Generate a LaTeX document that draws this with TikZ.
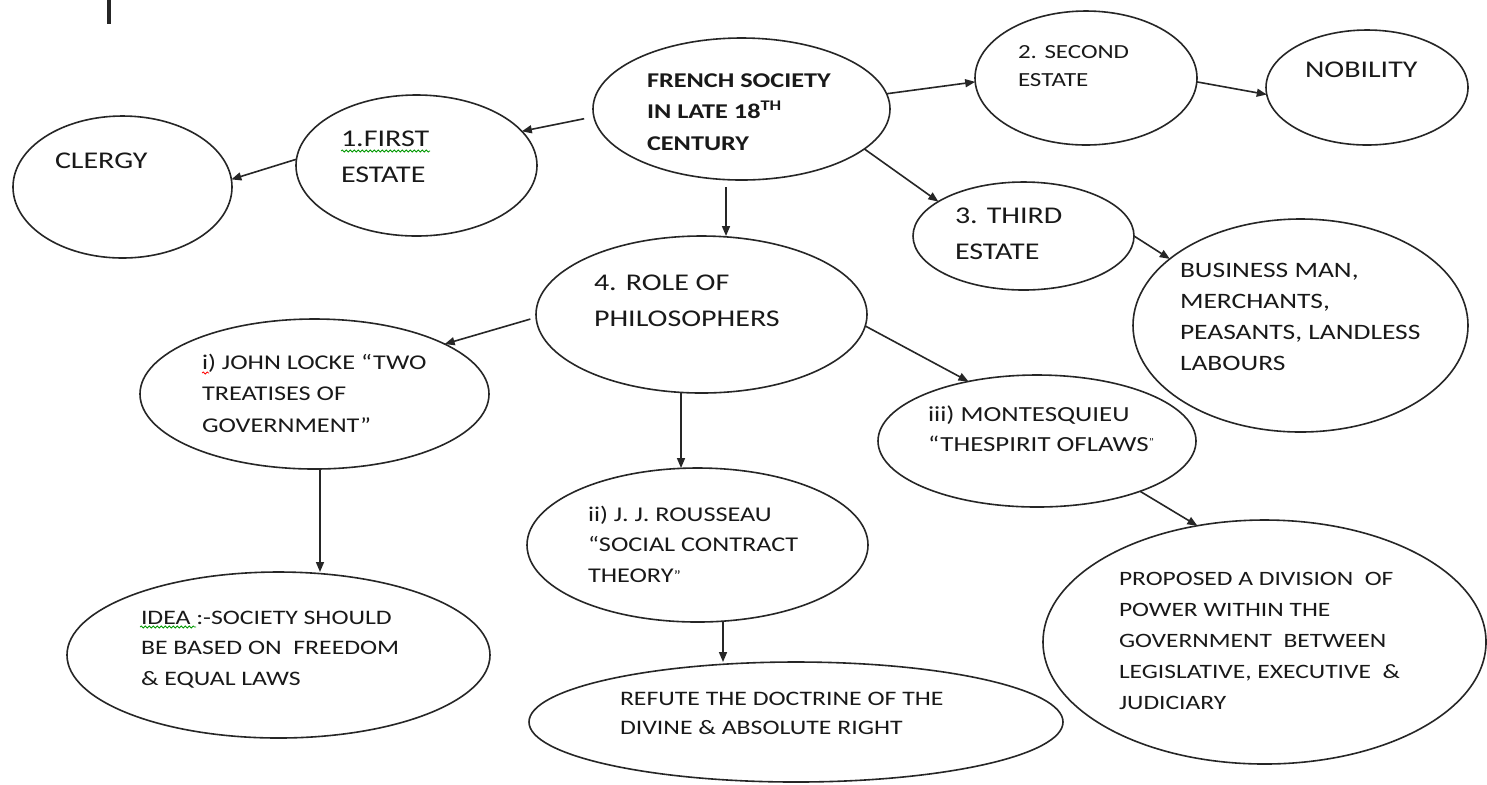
\documentclass[tikz,border=0pt]{standalone}
\usepackage{fontspec}
\setmainfont{Carlito}[FakeStretch=1.25]
\usetikzlibrary{arrows.meta,shapes.geometric,decorations.pathmorphing}
\newcommand\mylines[1]{\begin{tabular}[t]{@{}l@{}}#1\end{tabular}}
\begin{document}
\begin{tikzpicture}[x=0.5pt,y=-0.5pt,
  ell/.style={draw=black!85, line width=0.8pt, ellipse, inner sep=0pt, outer sep=0pt},
  txt/.style={anchor=base west, inner sep=0pt, outer sep=0pt, text=black!90, font=\fontsize{12}{#1}\selectfont},
  txt/.default=15.5,
  arr/.style={draw=black!85, line width=0.8pt, -{Triangle[length=5pt,width=4pt]}},
  squig/.style={decorate, decoration={snake, amplitude=0.5pt, segment length=2pt}, line width=0.4pt}
]
\useasboundingbox (0,0) rectangle (1487,784);
\fill[white] (0,0) rectangle (1487,784);

% cursor bar
\draw[line width=2pt, black!85] (108.5,0) -- (108.5,24);

% ellipses
\node[ell, minimum width=109.5pt, minimum height=71pt]   (clergy)   at (122.5,187) {};
\node[ell, minimum width=120.5pt, minimum height=70.5pt] (first)    at (416.5,165.5) {};
\node[ell, minimum width=148.5pt, minimum height=71pt]   (french)   at (741.5,109) {};
\node[ell, minimum width=111pt,   minimum height=67pt]   (second)   at (1086,78) {};
\node[ell, minimum width=101pt,   minimum height=57.5pt] (nobility) at (1367,87.5) {};
\node[ell, minimum width=110.5pt, minimum height=54pt]   (third)    at (1023.5,236) {};
\node[ell, minimum width=167.5pt, minimum height=106.5pt](business) at (1300.5,325.5) {};
\node[ell, minimum width=165.5pt, minimum height=78.5pt] (role)     at (701.5,314.5) {};
\node[ell, minimum width=174.5pt, minimum height=75pt]   (locke)    at (314.5,394) {};
\node[ell, minimum width=159pt,   minimum height=66pt]   (montes)   at (1037,441) {};
\node[ell, minimum width=170.5pt, minimum height=77pt]   (rousseau) at (697.5,545) {};
\node[ell, minimum width=267pt,   minimum height=60pt]   (refute)   at (796,722) {};
\node[ell, minimum width=211.5pt, minimum height=83pt]   (idea)     at (278.5,655) {};
\node[ell, minimum width=221.5pt, minimum height=122pt]  (proposed) at (1264.5,642) {};

% texts
\node[txt] (clergyt) at (55,168) {CLERGY};
\node[txt=18] (firstt) at (341,146) {\mylines{1.FIRST\\ESTATE}};
\node[txt, font=\bfseries\fontsize{10.5}{15.75}\selectfont] (frencht) at (647,87) {\mylines{FRENCH SOCIETY\\IN LATE 18\textsuperscript{TH}\\CENTURY}};
\node[txt, font=\fontsize{10}{14}\selectfont] (secondt) at (1018,58.5) {\mylines{2. SECOND\\ESTATE}};
\node[txt] (nobilityt) at (1305,77) {NOBILITY};
\node[txt=18] (thirdt) at (955,223) {\mylines{3. THIRD\\ESTATE}};
\node[txt, font=\fontsize{11}{15.65}\selectfont] (businesst) at (1180,277) {\mylines{BUSINESS MAN,\\MERCHANTS,\\PEASANTS, LANDLESS\\LABOURS}};
\node[txt=18] (rolet) at (594,290) {\mylines{4. ROLE OF\\PHILOSOPHERS}};
\node[txt, font=\fontsize{10.5}{15.75}\selectfont] (locket) at (202,369) {\mylines{i) JOHN LOCKE “TWO\\TREATISES OF\\GOVERNMENT”}};
\node[txt, font=\fontsize{10.75}{15}\selectfont] (montest) at (928,421) {\mylines{iii) MONTESQUIEU\\“THESPIRIT OFLAWS\raisebox{3pt}{\fontsize{5}{5}\selectfont ”}}};
\node[txt, font=\fontsize{10.5}{15.25}\selectfont] (rousseaut) at (588,521) {\mylines{ii) J. J. ROUSSEAU\\“SOCIAL CONTRACT\\THEORY\raisebox{1pt}{\fontsize{7}{7}\selectfont ”}}};
\node[txt, font=\fontsize{10.3}{15.25}\selectfont] (ideat) at (141,624) {\mylines{IDEA :-SOCIETY SHOULD\\BE BASED ON\ \ FREEDOM\\\& EQUAL LAWS}};
\node[txt, font=\fontsize{10.3}{14.5}\selectfont] (refutet) at (620,705) {\mylines{REFUTE THE DOCTRINE OF THE\\DIVINE \& ABSOLUTE RIGHT}};
\node[txt, font=\fontsize{10.2}{15.6}\selectfont] (proposedt) at (1119,585) {\mylines{PROPOSED A DIVISION\ \ OF\\POWER WITHIN THE\\GOVERNMENT\ \ BETWEEN\\LEGISLATIVE, EXECUTIVE\ \ \&\\JUDICIARY}};

% spell-check marks
\draw[squig, green!60!black] (341,151) -- (430,151);
\draw[squig, green!60!black] (140,627) -- (196,627);
\draw[squig, red] (202,373) -- (209,373);

% helper x positions for vertical arrows
\coordinate (v1) at (726,0);
\coordinate (v2) at (681,0);
\coordinate (v3) at (320,0);
\coordinate (v4) at (723,0);

% connectors
\draw[arr, shorten <=5pt] (french.183) -- (first.18);
\draw[arr] (french.6) -- (second.182);
\draw[arr] (french.-18) -- (third.158);
\draw[arr, shorten <=3.5pt] (french.south -| v1) -- (role.north -| v1);
\draw[arr] (first.177) -- (clergy.4);
\draw[arr] (second.-2) -- (nobility.184);
\draw[arr] (third.0) -- (business.153);
\draw[arr, shorten <=3pt] (role.181) -- (locke.21);
\draw[arr] (role.south -| v2) -- (rousseau.north -| v2);
\draw[arr] (role.-4) -- (montes.139);
\draw[arr] (locke.south -| v3) -- (idea.north -| v3);
\draw[arr] (rousseau.south -| v4) -- (refute.north -| v4);
\draw[arr] (montes.-26) -- (proposed.120);
\end{tikzpicture}
\end{document}
